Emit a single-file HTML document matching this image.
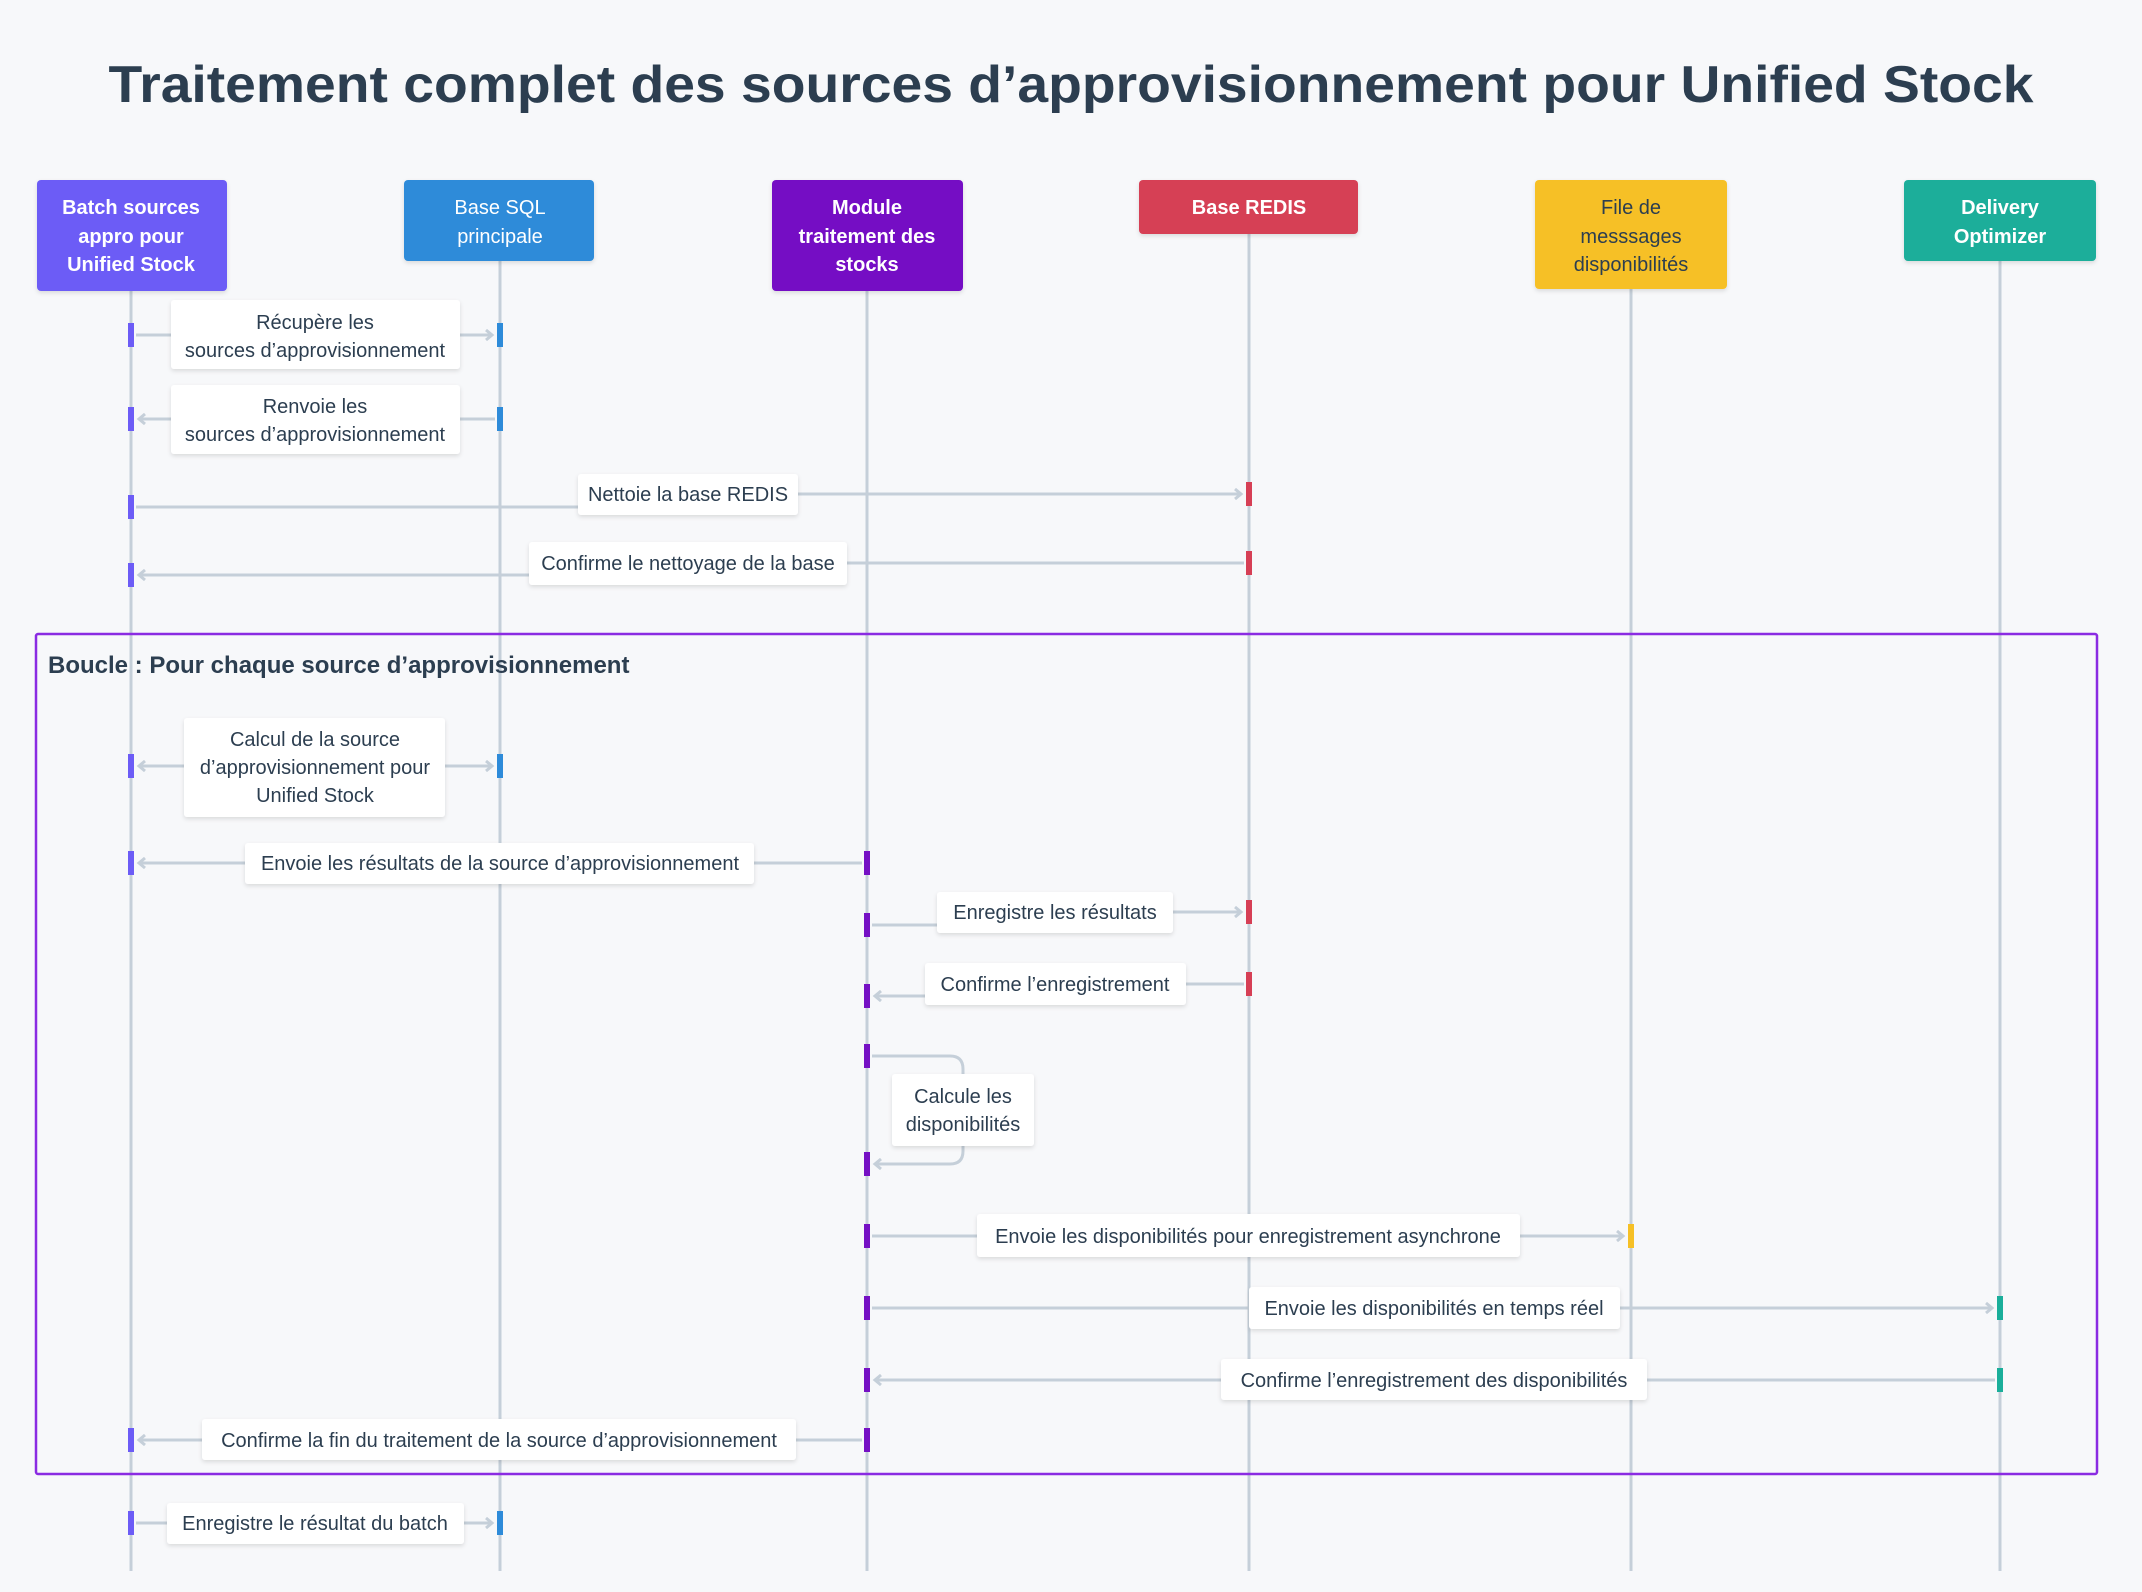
<!DOCTYPE html>
<html><head><meta charset="utf-8"><style>
html,body{margin:0;padding:0;background:#f7f8fa;}
svg{display:block;}
text{font-family:"Liberation Sans",sans-serif;}
</style></head><body>
<svg width="2142" height="1592" viewBox="0 0 2142 1592" xmlns="http://www.w3.org/2000/svg">
<defs>
<marker id="ar" markerWidth="12" markerHeight="12" refX="9" refY="6" orient="auto" markerUnits="userSpaceOnUse">
<polyline points="3,1 9,6 3,11" fill="none" stroke="#c5cfd9" stroke-width="3"/>
</marker>
<filter id="sh" x="-10%" y="-10%" width="120%" height="130%"><feDropShadow dx="0" dy="2" stdDeviation="2" flood-color="#000" flood-opacity="0.12"/></filter>
</defs>
<rect width="2142" height="1592" fill="#f7f8fa"/>
<text x="1071" y="102" text-anchor="middle" font-size="52" font-weight="bold" fill="#2c3e50" textLength="1925" lengthAdjust="spacingAndGlyphs">Traitement complet des sources d’approvisionnement pour Unified Stock</text>

<!-- lifelines -->
<g stroke="#c5cfd9" stroke-width="3">
<line x1="131" y1="290" x2="131" y2="1571"/>
<line x1="500" y1="260" x2="500" y2="1571"/>
<line x1="867" y1="290" x2="867" y2="1571"/>
<line x1="1249" y1="233" x2="1249" y2="1571"/>
<line x1="1631" y1="288" x2="1631" y2="1571"/>
<line x1="2000" y1="260" x2="2000" y2="1571"/>
</g>

<!-- actors -->
<g filter="url(#sh)">
<rect x="37" y="180" width="190" height="111" rx="4" fill="#6c5cf6"/>
<rect x="404" y="180" width="190" height="81" rx="4" fill="#2e8bd9"/>
<rect x="772" y="180" width="191" height="111" rx="4" fill="#7510c4"/>
<rect x="1139" y="180" width="219" height="54" rx="4" fill="#d63f55"/>
<rect x="1535" y="180" width="192" height="109" rx="4" fill="#f6c026"/>
<rect x="1904" y="180" width="192" height="81" rx="4" fill="#1aae9a"/>
</g>
<g font-size="20" font-weight="bold" fill="#fff" text-anchor="middle">
<text x="131" y="214">Batch sources</text><text x="131" y="243">appro pour</text><text x="131" y="271">Unified Stock</text>
<text x="500" y="214" font-weight="normal">Base SQL</text><text x="500" y="243" font-weight="normal">principale</text>
<text x="867" y="214">Module</text><text x="867" y="243">traitement des</text><text x="867" y="271">stocks</text>
<text x="1249" y="214">Base REDIS</text>
<text x="1631" y="214" fill="#2c3e50" font-weight="normal">File de</text><text x="1631" y="243" fill="#2c3e50" font-weight="normal">messsages</text><text x="1631" y="271" fill="#2c3e50" font-weight="normal">disponibilités</text>
<text x="2000" y="214">Delivery</text><text x="2000" y="243">Optimizer</text>
</g>

<!-- loop -->
<rect x="36" y="634" width="2061" height="840" fill="none" stroke="#8a2be2" stroke-width="2.5" rx="2"/>
<text x="48" y="673" font-size="24" font-weight="bold" fill="#2c3e50">Boucle : Pour chaque source d’approvisionnement</text>

<!-- arrows -->
<g stroke="#c5cfd9" stroke-width="3" fill="none">
<line x1="136" y1="335" x2="492" y2="335" marker-end="url(#ar)"/>
<line x1="495" y1="419" x2="139" y2="419" marker-end="url(#ar)"/>
<line x1="136" y1="507" x2="578" y2="507"/>
<line x1="798" y1="494" x2="1241" y2="494" marker-end="url(#ar)"/>
<line x1="1244" y1="563" x2="847" y2="563"/>
<line x1="529" y1="575" x2="139" y2="575" marker-end="url(#ar)"/>
<line x1="184" y1="766" x2="139" y2="766" marker-end="url(#ar)"/>
<line x1="445" y1="766" x2="492" y2="766" marker-end="url(#ar)"/>
<line x1="862" y1="863" x2="139" y2="863" marker-end="url(#ar)"/>
<line x1="872" y1="925" x2="937" y2="925"/>
<line x1="1173" y1="912" x2="1241" y2="912" marker-end="url(#ar)"/>
<line x1="1244" y1="984" x2="1186" y2="984"/>
<line x1="925" y1="996" x2="875" y2="996" marker-end="url(#ar)"/>
<path d="M872 1056 H950 Q963 1056 963 1069 V1151 Q963 1164 950 1164 H875" marker-end="url(#ar)"/>
<line x1="872" y1="1236" x2="1623" y2="1236" marker-end="url(#ar)"/>
<line x1="872" y1="1308" x2="1992" y2="1308" marker-end="url(#ar)"/>
<line x1="1995" y1="1380" x2="875" y2="1380" marker-end="url(#ar)"/>
<line x1="862" y1="1440" x2="139" y2="1440" marker-end="url(#ar)"/>
<line x1="136" y1="1523" x2="492" y2="1523" marker-end="url(#ar)"/>
</g>

<!-- activations -->
<g>
<rect x="128" y="323" width="6" height="24" fill="#6c5cf6"/><rect x="497" y="323" width="6" height="24" fill="#2e8bd9"/>
<rect x="128" y="407" width="6" height="24" fill="#6c5cf6"/><rect x="497" y="407" width="6" height="24" fill="#2e8bd9"/>
<rect x="128" y="495" width="6" height="24" fill="#6c5cf6"/><rect x="1246" y="482" width="6" height="24" fill="#d63f55"/>
<rect x="128" y="563" width="6" height="24" fill="#6c5cf6"/><rect x="1246" y="551" width="6" height="24" fill="#d63f55"/>
<rect x="128" y="754" width="6" height="24" fill="#6c5cf6"/><rect x="497" y="754" width="6" height="24" fill="#2e8bd9"/>
<rect x="128" y="851" width="6" height="24" fill="#6c5cf6"/><rect x="864" y="851" width="6" height="24" fill="#7510c4"/>
<rect x="864" y="913" width="6" height="24" fill="#7510c4"/><rect x="1246" y="900" width="6" height="24" fill="#d63f55"/>
<rect x="864" y="984" width="6" height="24" fill="#7510c4"/><rect x="1246" y="972" width="6" height="24" fill="#d63f55"/>
<rect x="864" y="1044" width="6" height="24" fill="#7510c4"/><rect x="864" y="1152" width="6" height="24" fill="#7510c4"/>
<rect x="864" y="1224" width="6" height="24" fill="#7510c4"/><rect x="1628" y="1224" width="6" height="24" fill="#f6c026"/>
<rect x="864" y="1296" width="6" height="24" fill="#7510c4"/><rect x="1997" y="1296" width="6" height="24" fill="#1aae9a"/>
<rect x="864" y="1368" width="6" height="24" fill="#7510c4"/><rect x="1997" y="1368" width="6" height="24" fill="#1aae9a"/>
<rect x="128" y="1428" width="6" height="24" fill="#6c5cf6"/><rect x="864" y="1428" width="6" height="24" fill="#7510c4"/>
<rect x="128" y="1511" width="6" height="24" fill="#6c5cf6"/><rect x="497" y="1511" width="6" height="24" fill="#2e8bd9"/>
</g>

<!-- label boxes -->
<g fill="#fff" filter="url(#sh)">
<rect x="171" y="300" width="289" height="69" rx="3"/>
<rect x="171" y="385" width="289" height="69" rx="3"/>
<rect x="578" y="474" width="220" height="41" rx="3"/>
<rect x="529" y="542" width="318" height="43" rx="3"/>
<rect x="184" y="718" width="261" height="99" rx="3"/>
<rect x="245" y="843" width="509" height="41" rx="3"/>
<rect x="937" y="892" width="236" height="41" rx="3"/>
<rect x="925" y="963" width="261" height="42" rx="3"/>
<rect x="892" y="1074" width="142" height="72" rx="3"/>
<rect x="977" y="1214" width="543" height="43" rx="3"/>
<rect x="1249" y="1287" width="371" height="42" rx="3"/>
<rect x="1221" y="1359" width="426" height="41" rx="3"/>
<rect x="202" y="1419" width="594" height="41" rx="3"/>
<rect x="167" y="1503" width="297" height="41" rx="3"/>
</g>
<g font-size="20" fill="#2c3e50" text-anchor="middle">
<text x="315" y="329">Récupère les</text><text x="315" y="357">sources d’approvisionnement</text>
<text x="315" y="413">Renvoie les</text><text x="315" y="441">sources d’approvisionnement</text>
<text x="688" y="501">Nettoie la base REDIS</text>
<text x="688" y="570">Confirme le nettoyage de la base</text>
<text x="315" y="746">Calcul de la source</text><text x="315" y="774">d’approvisionnement pour</text><text x="315" y="802">Unified Stock</text>
<text x="500" y="870">Envoie les résultats de la source d’approvisionnement</text>
<text x="1055" y="919">Enregistre les résultats</text>
<text x="1055" y="991">Confirme l’enregistrement</text>
<text x="963" y="1103">Calcule les</text><text x="963" y="1131">disponibilités</text>
<text x="1248" y="1243">Envoie les disponibilités pour enregistrement asynchrone</text>
<text x="1434" y="1315">Envoie les disponibilités en temps réel</text>
<text x="1434" y="1387">Confirme l’enregistrement des disponibilités</text>
<text x="499" y="1447">Confirme la fin du traitement de la source d’approvisionnement</text>
<text x="315" y="1530">Enregistre le résultat du batch</text>
</g>
</svg>
</body></html>
